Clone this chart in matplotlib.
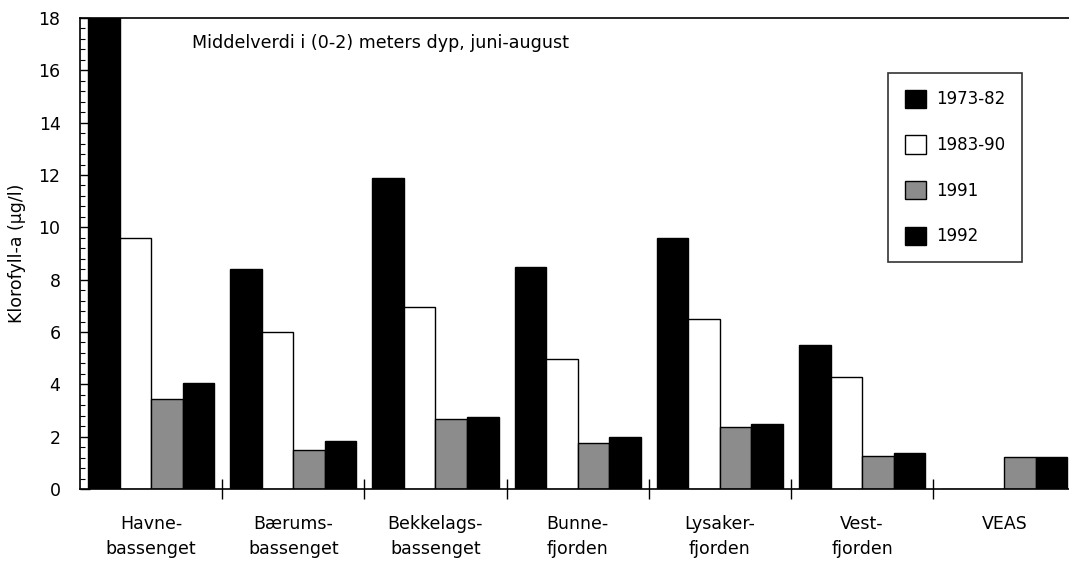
import matplotlib
matplotlib.use("Agg")
import matplotlib.pyplot as plt
from matplotlib.ticker import MultipleLocator
from matplotlib.patches import Patch
import numpy as np

categories = ["Havne-\nbassenget", "Bærums-\nbassenget", "Bekkelags-\nbassenget",
              "Bunne-\nfjorden", "Lysaker-\nfjorden", "Vest-\nfjorden", "VEAS"]
series_names = ["1973-82", "1983-90", "1991", "1992"]
v_1973_82 = [18.0, 8.39, 11.9, 8.47, 9.6, 5.5, 0.0]
v_1983_90 = [9.6, 6.0, 6.97, 4.96, 6.51, 4.29, 0.0]
v_1991 = [3.44, 1.49, 2.66, 1.75, 2.38, 1.27, 1.23]
v_1992 = [4.06, 1.85, 2.74, 2.0, 2.47, 1.36, 1.22]
yticks = [0, 2, 4, 6, 8, 10, 12, 14, 16, 18]
title_text = "Middelverdi i (0-2) meters dyp, juni-august"
ylabel = "Klorofyll-a (µg/l)"

plt.rcParams['font.family'] = ['DejaVu Sans']

W, H = 1069, 562
fig = plt.figure(figsize=(W / 100, H / 100), dpi=100)
ax = fig.add_axes([80 / W, 73 / H, 995.4 / W, 471 / H])

series = [v_1973_82, v_1983_90, v_1991, v_1992]
faces = ["black", "white", "#8c8c8c", "black"]
x = np.arange(len(categories))
w = 0.222
for j, (vals, fc) in enumerate(zip(series, faces)):
    ax.bar(x + (j - 1.5) * w, vals, width=w, color=fc, edgecolor="black",
           linewidth=1.0, label=series_names[j], zorder=2)

ax.set_xlim(-0.5, 6.5)
ax.set_ylim(0, 18)
ax.set_yticks(yticks)
ax.yaxis.set_minor_locator(MultipleLocator(0.4))
ax.tick_params(axis='y', which='major', direction='in', length=7, width=1, labelsize=12.5, pad=14)
ax.tick_params(axis='y', which='minor', direction='in', length=3.5, width=0.8)
ax.set_xticks(x)
ax.set_xticklabels(categories, fontsize=12.5, linespacing=1.5)
ax.tick_params(axis='x', which='major', length=0, pad=19)
ax.set_xticks(np.arange(0.5, 6.5, 1.0), minor=True)
ax.tick_params(axis='x', which='minor', direction='inout', length=15, width=1)
for s in ax.spines.values():
    s.set_linewidth(1.2)
ax.spines['right'].set_visible(False)

ax.set_ylabel(ylabel, fontsize=12.5, labelpad=9)
ax.text(192, 562 - 43, title_text, transform=None, fontsize=12.6, va='center', ha='left')

handles = [Patch(facecolor=fc, edgecolor='black', linewidth=1.0) for fc in faces]
leg = ax.legend(handles, series_names, loc='upper left',
                bbox_to_anchor=(888 / W, (562 - 73) / H), bbox_transform=fig.transFigure,
                fontsize=12, frameon=True, fancybox=False, edgecolor='black',
                borderpad=1.0, labelspacing=1.62, handlelength=1.3, handleheight=1.3,
                handletextpad=0.6, borderaxespad=0)
leg.get_frame().set_linewidth(1.2)

fig.savefig("out.png", dpi=100)
